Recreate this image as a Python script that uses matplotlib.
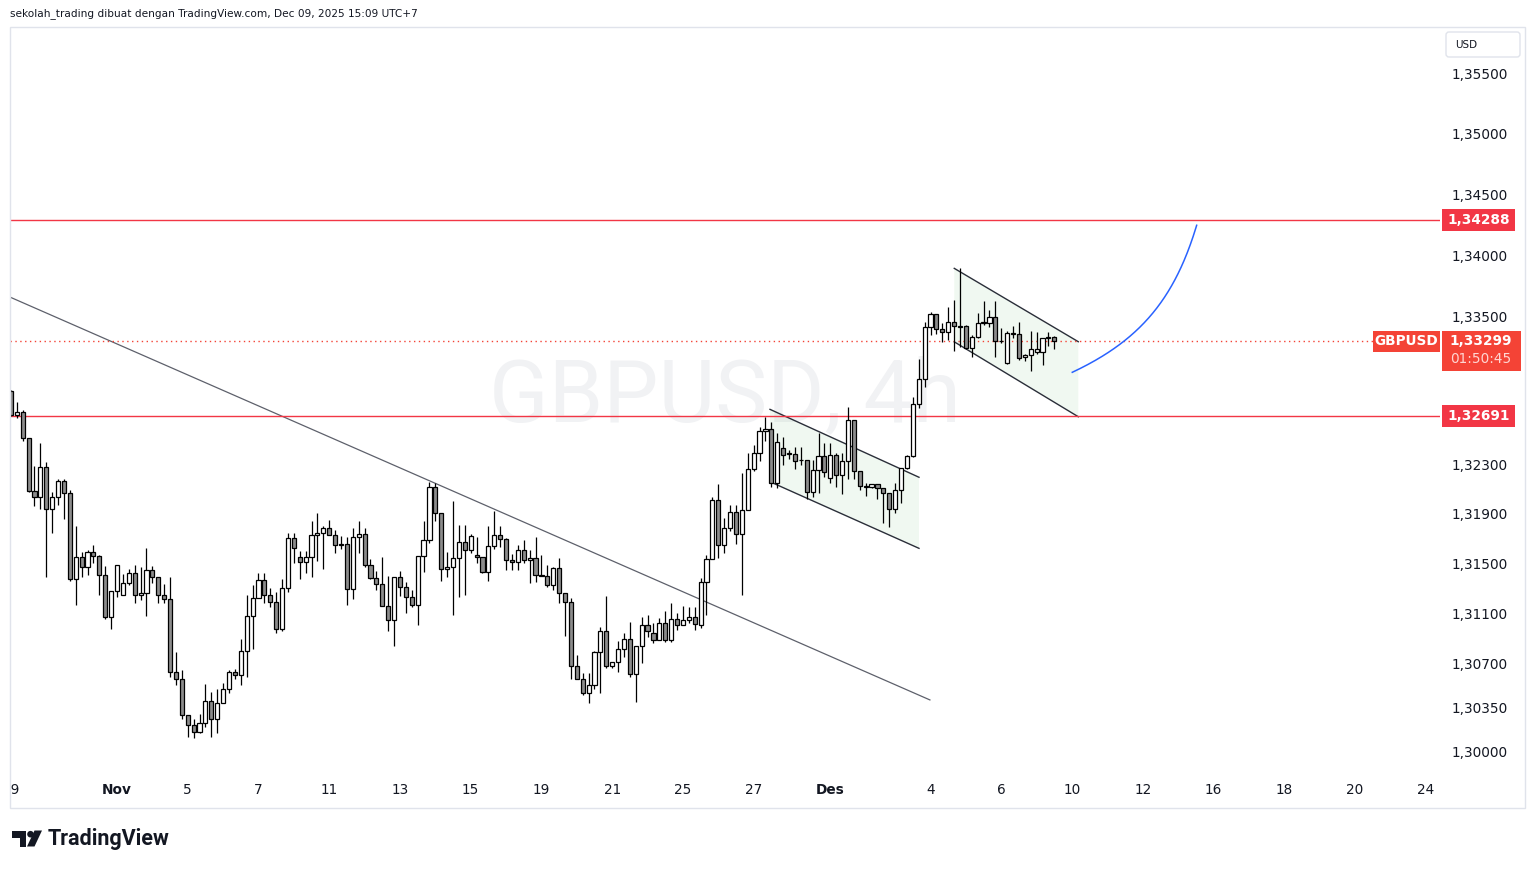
import datetime as dt
import numpy as np
import matplotlib
matplotlib.use("Agg")
import matplotlib.pyplot as plt
from matplotlib.patches import Rectangle, Polygon, Circle, FancyBboxPatch
from matplotlib.transforms import IdentityTransform
from matplotlib.ticker import FixedLocator, FuncFormatter, NullLocator, NullFormatter

# ---------------- data (GBPUSD, 4h) ----------------
opens = [1.32894, 1.32697, 1.32721, 1.32511, 1.32081, 1.32033, 1.32276, 1.31937, 1.32033, 1.32162,
         1.32065, 1.31373, 1.31550, 1.31474, 1.31590, 1.31563, 1.31405, 1.31068, 1.31276, 1.31245,
         1.31341, 1.31421, 1.31245, 1.31261, 1.31446, 1.31389, 1.31245, 1.31213, 1.30628, 1.30573,
         1.30285, 1.30206, 1.30151, 1.30222, 1.30398, 1.30254, 1.30382, 1.30493, 1.30628, 1.30604,
         1.30797, 1.31077, 1.31221, 1.31366, 1.31245, 1.31188, 1.30973, 1.31301, 1.31703, 1.31550,
         1.31509, 1.31550, 1.31727, 1.31743, 1.31784, 1.31727, 1.31654, 1.31654, 1.31293, 1.31711,
         1.31735, 1.31485, 1.31381, 1.31333, 1.31156, 1.31045, 1.31389, 1.31314, 1.31234, 1.31169,
         1.31560, 1.31689, 1.32114, 1.31904, 1.31458, 1.31474, 1.31542, 1.31670, 1.31607, 1.31571,
         1.31550, 1.31429, 1.31639, 1.31727, 1.31695, 1.31526, 1.31509, 1.31607, 1.31526, 1.31542,
         1.31405, 1.31403, 1.31325, 1.31461, 1.31261, 1.31188, 1.30677, 1.30573, 1.30461, 1.30525,
         1.30789, 1.30957, 1.30677, 1.30709, 1.30812, 1.30892, 1.30612, 1.30837, 1.31005, 1.30940,
         1.30884, 1.31020, 1.30886, 1.31053, 1.31005, 1.31047, 1.31073, 1.31005, 1.31349, 1.31534,
         1.32012, 1.31647, 1.31784, 1.31912, 1.31735, 1.31929, 1.32260, 1.32389, 1.32567, 1.32583,
         1.32149, 1.32430, 1.32389, 1.32381, 1.32335, 1.32333, 1.32073, 1.32252, 1.32365, 1.32187,
         1.32373, 1.32211, 1.32324, 1.32657, 1.32243, 1.32122, 1.32114, 1.32138, 1.32106, 1.32065,
         1.31937, 1.32090, 1.32268, 1.32365, 1.32789, 1.32989, 1.33418, 1.33519, 1.33396, 1.33376,
         1.33453, 1.33421, 1.33426, 1.33241, 1.33331, 1.33450, 1.33450, 1.33499, 1.33303, 1.33124,
         1.33363, 1.33360, 1.33168, 1.33189, 1.33208, 1.33208, 1.33323, 1.33331]
highs = [1.32902, 1.32802, 1.32740, 1.32513, 1.32286, 1.32474, 1.32319, 1.32076, 1.32184, 1.32179,
         1.32092, 1.31801, 1.31593, 1.31609, 1.31651, 1.31566, 1.31479, 1.31276, 1.31485, 1.31416,
         1.31454, 1.31485, 1.31469, 1.31623, 1.31477, 1.31389, 1.31336, 1.31389, 1.30791, 1.30647,
         1.30285, 1.30258, 1.30296, 1.30535, 1.30471, 1.30493, 1.30540, 1.30647, 1.30653, 1.30897,
         1.31245, 1.31325, 1.31421, 1.31421, 1.31301, 1.31268, 1.31376, 1.31743, 1.31743, 1.31601,
         1.31601, 1.31842, 1.31907, 1.31802, 1.31848, 1.31768, 1.31721, 1.31716, 1.31784, 1.31842,
         1.31784, 1.31534, 1.31442, 1.31550, 1.31400, 1.31389, 1.31442, 1.31352, 1.31287, 1.31560,
         1.31842, 1.32159, 1.32146, 1.31904, 1.31593, 1.32001, 1.31810, 1.31810, 1.31735, 1.31711,
         1.31550, 1.31802, 1.31925, 1.31802, 1.31703, 1.31579, 1.31646, 1.31689, 1.31609, 1.31716,
         1.31571, 1.31485, 1.31474, 1.31542, 1.31261, 1.31221, 1.30764, 1.30621, 1.30621, 1.30797,
         1.30989, 1.31239, 1.30709, 1.30876, 1.30940, 1.31031, 1.30837, 1.31069, 1.31085, 1.31020,
         1.31061, 1.31121, 1.31181, 1.31100, 1.31161, 1.31153, 1.31153, 1.31381, 1.31569, 1.32038,
         1.32141, 1.31864, 1.31969, 1.31969, 1.32227, 1.32389, 1.32453, 1.32605, 1.32685, 1.32645,
         1.32551, 1.32523, 1.32416, 1.32443, 1.32443, 1.32333, 1.32335, 1.32551, 1.32469, 1.32469,
         1.32389, 1.32389, 1.32762, 1.32657, 1.32243, 1.32146, 1.32138, 1.32140, 1.32108, 1.32067,
         1.32146, 1.32270, 1.32375, 1.32847, 1.33157, 1.33458, 1.33540, 1.33519, 1.33445, 1.33581,
         1.33635, 1.33894, 1.33428, 1.33350, 1.33527, 1.33627, 1.33554, 1.33629, 1.33404, 1.33384,
         1.33423, 1.33458, 1.33192, 1.33382, 1.33376, 1.33323, 1.33376, 1.33342]
lows = [1.32691, 1.32673, 1.32490, 1.32080, 1.31963, 1.31942, 1.31394, 1.31748, 1.31969, 1.31856,
        1.31357, 1.31164, 1.31394, 1.31405, 1.31501, 1.31249, 1.31052, 1.30972, 1.31234, 1.31245,
        1.31330, 1.31181, 1.31207, 1.31081, 1.31346, 1.31185, 1.31181, 1.30593, 1.30529, 1.30258,
        1.30115, 1.30105, 1.30143, 1.30195, 1.30115, 1.30143, 1.30382, 1.30461, 1.30577, 1.30529,
        1.30593, 1.30812, 1.31221, 1.31181, 1.31153, 1.30945, 1.30961, 1.31274, 1.31506, 1.31373,
        1.31426, 1.31394, 1.31522, 1.31458, 1.31727, 1.31582, 1.31614, 1.31169, 1.31218, 1.31587,
        1.31474, 1.31373, 1.31287, 1.31156, 1.30961, 1.30841, 1.31239, 1.31105, 1.31153, 1.31009,
        1.31434, 1.31662, 1.31844, 1.31357, 1.31389, 1.31084, 1.31229, 1.31249, 1.31582, 1.31501,
        1.31421, 1.31357, 1.31614, 1.31631, 1.31446, 1.31450, 1.31448, 1.31504, 1.31341, 1.31354,
        1.31400, 1.31314, 1.31287, 1.31185, 1.30921, 1.30573, 1.30573, 1.30445, 1.30382, 1.30493,
        1.30465, 1.30660, 1.30663, 1.30633, 1.30753, 1.30593, 1.30390, 1.30701, 1.30908, 1.30860,
        1.30884, 1.30870, 1.30870, 1.30967, 1.31005, 1.31020, 1.30967, 1.30981, 1.31089, 1.31534,
        1.31544, 1.31582, 1.31764, 1.31654, 1.31247, 1.31929, 1.32243, 1.32324, 1.32486, 1.32114,
        1.32106, 1.32295, 1.32341, 1.32260, 1.32295, 1.32018, 1.32033, 1.32065, 1.32200, 1.32146,
        1.32119, 1.32057, 1.32179, 1.32179, 1.32092, 1.32042, 1.32112, 1.32020, 1.31823, 1.31796,
        1.31909, 1.31985, 1.32265, 1.32357, 1.32756, 1.32924, 1.33350, 1.33358, 1.33295, 1.33309,
        1.33221, 1.33254, 1.33233, 1.33173, 1.33323, 1.33431, 1.33418, 1.33168, 1.33287, 1.33113,
        1.33327, 1.33146, 1.33140, 1.33059, 1.33195, 1.33103, 1.33260, 1.33238]
closes = [1.32699, 1.32721, 1.32511, 1.32081, 1.32033, 1.32276, 1.31937, 1.32033, 1.32162, 1.32065,
          1.31373, 1.31550, 1.31474, 1.31590, 1.31563, 1.31405, 1.31068, 1.31276, 1.31485, 1.31341,
          1.31421, 1.31245, 1.31261, 1.31446, 1.31389, 1.31245, 1.31213, 1.30628, 1.30573, 1.30285,
          1.30206, 1.30151, 1.30222, 1.30398, 1.30254, 1.30382, 1.30493, 1.30628, 1.30604, 1.30797,
          1.31077, 1.31221, 1.31366, 1.31245, 1.31188, 1.30973, 1.31301, 1.31703, 1.31623, 1.31509,
          1.31550, 1.31727, 1.31743, 1.31784, 1.31727, 1.31646, 1.31646, 1.31293, 1.31711, 1.31735,
          1.31485, 1.31381, 1.31333, 1.31156, 1.31045, 1.31389, 1.31314, 1.31234, 1.31169, 1.31560,
          1.31689, 1.32114, 1.31904, 1.31458, 1.31474, 1.31542, 1.31670, 1.31607, 1.31719, 1.31550,
          1.31429, 1.31639, 1.31727, 1.31695, 1.31526, 1.31509, 1.31607, 1.31526, 1.31542, 1.31405,
          1.31403, 1.31325, 1.31461, 1.31261, 1.31188, 1.30677, 1.30573, 1.30461, 1.30525, 1.30789,
          1.30957, 1.30677, 1.30709, 1.30812, 1.30892, 1.30612, 1.30837, 1.31005, 1.30957, 1.30884,
          1.31020, 1.30886, 1.31053, 1.31005, 1.31047, 1.31073, 1.31015, 1.31349, 1.31534, 1.32012,
          1.31647, 1.31784, 1.31912, 1.31735, 1.31929, 1.32260, 1.32389, 1.32567, 1.32583, 1.32149,
          1.32480, 1.32375, 1.32385, 1.32327, 1.32331, 1.32073, 1.32252, 1.32365, 1.32235, 1.32373,
          1.32211, 1.32324, 1.32657, 1.32243, 1.32122, 1.32120, 1.32138, 1.32106, 1.32065, 1.31937,
          1.32090, 1.32268, 1.32365, 1.32789, 1.32989, 1.33418, 1.33519, 1.33396, 1.33376, 1.33453,
          1.33421, 1.33418, 1.33241, 1.33331, 1.33450, 1.33455, 1.33499, 1.33303, 1.33303, 1.33363,
          1.33360, 1.33165, 1.33189, 1.33233, 1.33233, 1.33323, 1.33331, 1.33299]

first_bar = dt.datetime(2025, 10, 29, 1, 0)
tick_dates = ["2025-10-29", "2025-11-01", "2025-11-05", "2025-11-07", "2025-11-11", "2025-11-13",
              "2025-11-15", "2025-11-19", "2025-11-21", "2025-11-25", "2025-11-27", "2025-12-01",
              "2025-12-04", "2025-12-06", "2025-12-10", "2025-12-12", "2025-12-16", "2025-12-18",
              "2025-12-20", "2025-12-24"]
month_names = {10: "Okt", 11: "Nov", 12: "Des"}

price_ticks = [1.355, 1.350, 1.345, 1.340, 1.335, 1.323, 1.319, 1.315, 1.311, 1.307, 1.3035, 1.300]
levels = [1.34288, 1.32691]
last_price = 1.33299
countdown = "01:50:45"
symbol = "GBPUSD"
interval = "4h"
header = "sekolah_trading dibuat dengan TradingView.com, Dec 09, 2025 15:09 UTC+7"

# drawings: (bar index, price) anchors
trend_x, trend_p = [-0.15, 155.9], [1.33659, 1.30408]
ch1_x = [128.77, 154.05]
ch1_up, ch1_lo = [1.32745, 1.32195], [1.32159, 1.31622]
ch2_x = [160.03, 181.07]
ch2_up, ch2_lo = [1.33894, 1.33295], [1.33294, 1.32685]
curve_x = [180.05, 195.9, 201.15]      # start, tangent corner, end
curve_p = [1.33046, 1.33403, 1.34247]

# ---------------- helpers ----------------
def bar_times(start, n):
    out, t = [], start
    while len(out) < n:
        wd, h = t.weekday(), t.hour
        if wd in (1, 2, 3, 4) or (wd == 0 and h >= 5) or (wd == 5 and h < 5):
            out.append(t)
        t += dt.timedelta(hours=4)
    return out

times = bar_times(first_bar, 260)
tick_idx, tick_lbl = [], []
for s in tick_dates:
    d = dt.date.fromisoformat(s)
    i = next(k for k, t in enumerate(times) if t.date() == d)
    tick_idx.append(i)
    tick_lbl.append(month_names[d.month] if d.day == 1 else str(d.day))

W, H = 1535, 869
TXT = "#131722"
RED = "#f23645"
fig = plt.figure(figsize=(W / 100, H / 100), dpi=100)
fig.patch.set_facecolor("white")
ax = fig.add_axes([10 / W, 1 - 775 / H, 1430 / W, 748 / H])
ax.set_yscale("log")
ax.set_xlim(-0.153, 242.43)
ax.set_ylim(1.29811, 1.35884)
for s in ax.spines.values():
    s.set_visible(False)

# watermark
ax.text(0.5, 0.505, f"{symbol}, {interval}", transform=ax.transAxes, ha="center", va="center",
        fontsize=63, family="Roboto", color="#f1f2f4", zorder=0)

# channels
for xs, up, lo in [(ch1_x, ch1_up, ch1_lo), (ch2_x, ch2_up, ch2_lo)]:
    ax.add_patch(Polygon([(xs[0], up[0]), (xs[1], up[1]), (xs[1], lo[1]), (xs[0], lo[0])],
                         closed=True, facecolor="#4caf50", alpha=0.08, edgecolor="none", zorder=1))
    ax.plot(xs, up, color="#2a2e39", lw=1.0, zorder=2)
    ax.plot(xs, lo, color="#2a2e39", lw=1.0, zorder=2)

# trend line
ax.plot(trend_x, trend_p, color="#5d606b", lw=0.9, zorder=2)

# levels
for lv in levels:
    ax.axhline(lv, color=RED, lw=1.0, zorder=2)
ax.axhline(last_price, xmin=0, xmax=(1373 - 10) / 1430, color="#f44336", lw=1.0,
           ls=(0, (1, 2.5)), zorder=2)

# candles
idx = np.arange(len(closes))
o, h, l, c = map(np.array, (opens, highs, lows, closes))
ax.vlines(idx, l, h, colors="black", lw=0.9, zorder=3)
up_ = c >= o
bottom = np.minimum(o, c)
height = np.abs(c - o)
ax.bar(idx, height, bottom=bottom, width=0.7,
       color=np.where(up_, "white", "#8c8c8c"), edgecolor="black", linewidth=0.9, zorder=4)

# blue curve (cubic bezier in display-linear space)
lx = np.array(curve_x, float)
ly = np.log(np.array(curve_p))
k = 0.72
P0 = np.array([lx[0], ly[0]]); C = np.array([lx[1], ly[1]]); P3 = np.array([lx[2], ly[2]])
P1 = P0 + k * (C - P0); P2 = P3 + k * (C - P3)
t = np.linspace(0, 1, 200)[:, None]
B = (1 - t) ** 3 * P0 + 3 * (1 - t) ** 2 * t * P1 + 3 * (1 - t) * t ** 2 * P2 + t ** 3 * P3
ax.plot(B[:, 0], np.exp(B[:, 1]), color="#2962ff", lw=1.1, zorder=5)

# axes ticks
ax.yaxis.tick_right()
ax.yaxis.set_major_locator(FixedLocator(price_ticks))
ax.yaxis.set_minor_locator(NullLocator())
ax.yaxis.set_minor_formatter(NullFormatter())
ax.yaxis.set_major_formatter(FuncFormatter(lambda v, p: f"{v:.5f}".replace(".", ",")))
ax.tick_params(axis="y", length=0, pad=8.5, labelsize=9.8, labelcolor=TXT)
ax.set_xticks(tick_idx)
ax.set_xticklabels(tick_lbl)
ax.tick_params(axis="x", length=0, pad=6, labelsize=9.8, labelcolor=TXT)
for lab in ax.get_xticklabels():
    if lab.get_text() in month_names.values():
        lab.set_fontweight("bold")

# ---------------- right-side labels (display pixels) ----------------
I = IdentityTransform()
def ypix(p):
    return ax.transData.transform((0, p))[1]

for lv in levels:
    yp = ypix(lv)
    fig.add_artist(Rectangle((1442, yp - 11), 73, 22, facecolor=RED, edgecolor="none",
                             transform=I, zorder=10))
    fig.text(1478.5 / W, yp / H, f"{lv:.5f}".replace(".", ","), ha="center", va="center",
             color="white", fontsize=9.8, fontweight="bold", zorder=11)

yp = ypix(last_price)
fig.add_artist(Rectangle((1442, yp - 30), 79, 40.5, facecolor="#f44336", edgecolor="none",
                         transform=I, zorder=10))
fig.text(1481 / W, yp / H, f"{last_price:.5f}".replace(".", ","), ha="center", va="center",
         color="white", fontsize=9.8, fontweight="bold", zorder=11)
fig.text(1481 / W, (yp - 18) / H, countdown, ha="center", va="center",
         color="#ffd6d2", fontsize=9.8, zorder=11)
fig.add_artist(Rectangle((1373, yp - 10.8), 67, 21, facecolor="#f44336", edgecolor="none",
                         transform=I, zorder=10))
fig.text(1406.5 / W, yp / H, symbol, ha="center", va="center",
         color="white", fontsize=9.8, fontweight="bold", zorder=11)

# USD box
fig.add_artist(FancyBboxPatch((1446, H - 57), 74, 25, boxstyle="round,pad=0,rounding_size=3",
                              facecolor="white", edgecolor="#e0e3eb", lw=1, transform=I, zorder=10))
fig.text(1455 / W, (H - 44.5) / H, "USD", ha="left", va="center", color=TXT, fontsize=7.5, zorder=11)

# header
fig.text(10 / W, 1 - 14 / H, header, ha="left", va="center", color=TXT, fontsize=7.6)

# mask clipped first date label and frame
fig.add_artist(Rectangle((0, H - 808), 9.5, 33, facecolor="white", edgecolor="none",
                         transform=I, zorder=12))
fig.add_artist(Rectangle((10, H - 808), 1515, 781, facecolor="none", edgecolor="#e0e3eb",
                         lw=1, transform=I, zorder=13))

# TradingView logo
logo = "#131722"
def img(pts):
    return [(x, H - y) for x, y in pts]
fig.add_artist(Polygon(img([(11.5, 830.5), (26, 830.5), (26, 846.5), (20, 846.5), (20, 837.5), (11.5, 837.5)]),
                       closed=True, facecolor=logo, edgecolor="none", transform=I, zorder=11))
fig.add_artist(Circle((30.5, H - 834.2), 3.3, facecolor=logo, edgecolor="none", transform=I, zorder=11))
fig.add_artist(Polygon(img([(34.5, 830.5), (42, 830.5), (34.5, 846.5), (27, 846.5)]),
                       closed=True, facecolor=logo, edgecolor="none", transform=I, zorder=11))
fig.text(48 / W, (H - 838.5) / H, "TradingView", ha="left", va="center", color=logo,
         fontsize=15.5, fontweight="bold", family="Roboto")

fig.savefig("out.png", dpi=100, facecolor="white")
